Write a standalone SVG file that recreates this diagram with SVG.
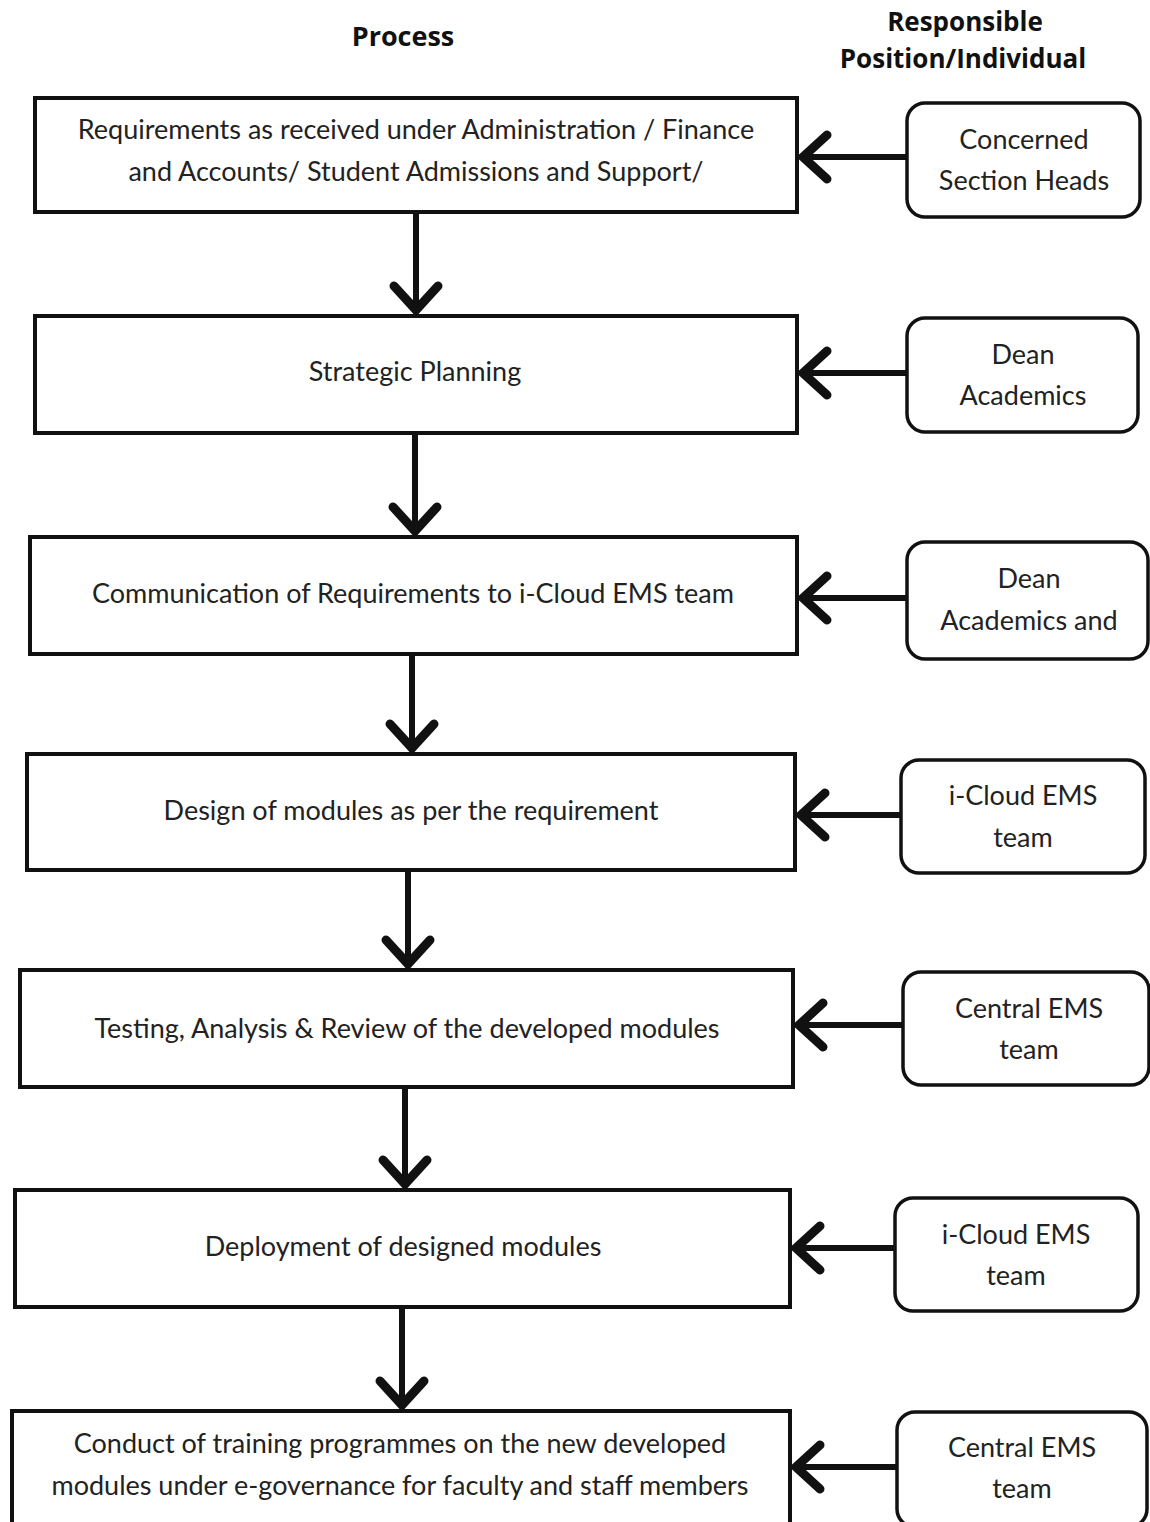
<svg xmlns="http://www.w3.org/2000/svg" width="1150" height="1522" viewBox="0 0 1150 1522">
<style>
.bg{fill:#fff}
.proc{fill:#fff;stroke:#111;stroke-width:4}
.resp{fill:#fff;stroke:#111;stroke-width:3.5}
.t{font-family:Lato,"Open Sans","Liberation Sans",sans-serif;font-size:27px;fill:#222;text-anchor:middle}
.h{font-family:"Open Sans","Liberation Sans",sans-serif;font-size:27px;font-weight:bold;fill:#111;text-anchor:middle}
.hs{font-size:26px}
.c{stroke:#111;stroke-width:6;fill:none}
</style>
<defs>
<marker id="ah" markerUnits="userSpaceOnUse" markerWidth="60" markerHeight="60" viewBox="-40 -30 44 60" refX="0" refY="0" orient="auto">
<path d="M -27 -22 L -3 0 L -27 22" fill="none" stroke="#111" stroke-width="9" stroke-linecap="round" stroke-linejoin="miter"/>
</marker>
</defs>
<rect class="bg" x="0" y="0" width="1150" height="1522"/>
<g id="headers">
<text class="h" x="403" y="46">Process</text>
<text class="h hs" x="965" y="31">Responsible</text>
<text class="h hs" x="963" y="68">Position/Individual</text>
</g>
<g id="p1"><rect class="proc" x="35" y="98" width="762" height="114"/>
<text class="t" x="416" y="139">Requirements as received under Administration / Finance</text>
<text class="t" x="416" y="181">and Accounts/ Student Admissions and Support/</text></g>
<g id="r1"><rect class="resp" x="907" y="103" width="233" height="114" rx="18"/>
<text class="t" x="1024" y="149">Concerned</text>
<text class="t" x="1024" y="190">Section Heads</text></g>
<g id="p2"><rect class="proc" x="35" y="316" width="762" height="117"/>
<text class="t" x="415" y="381">Strategic Planning</text></g>
<g id="r2"><rect class="resp" x="907" y="318" width="231" height="114" rx="18"/>
<text class="t" x="1023" y="364">Dean</text>
<text class="t" x="1023" y="405">Academics</text></g>
<g id="p3"><rect class="proc" x="30" y="537" width="767" height="117"/>
<text class="t" x="413" y="603">Communication of Requirements to i-Cloud EMS team</text></g>
<g id="r3"><rect class="resp" x="907" y="542" width="241" height="117" rx="18"/>
<text class="t" x="1029" y="588">Dean</text>
<text class="t" x="1029" y="630">Academics and</text></g>
<g id="p4"><rect class="proc" x="27" y="754" width="768" height="116"/>
<text class="t" x="411" y="820">Design of modules as per the requirement</text></g>
<g id="r4"><rect class="resp" x="901" y="760" width="244" height="113" rx="18"/>
<text class="t" x="1023" y="805">i-Cloud EMS</text>
<text class="t" x="1023" y="847">team</text></g>
<g id="p5"><rect class="proc" x="20" y="970" width="773" height="117"/>
<text class="t" x="407" y="1038">Testing, Analysis &amp; Review of the developed modules</text></g>
<g id="r5"><rect class="resp" x="903" y="972" width="246" height="113" rx="18"/>
<text class="t" x="1029" y="1018">Central EMS</text>
<text class="t" x="1029" y="1059">team</text></g>
<g id="p6"><rect class="proc" x="15" y="1190" width="775" height="117"/>
<text class="t" x="403" y="1256">Deployment of designed modules</text></g>
<g id="r6"><rect class="resp" x="895" y="1198" width="243" height="113" rx="18"/>
<text class="t" x="1016" y="1244">i-Cloud EMS</text>
<text class="t" x="1016" y="1285">team</text></g>
<g id="p7"><rect class="proc" x="12" y="1411" width="778" height="116"/>
<text class="t" x="400" y="1453">Conduct of training programmes on the new developed</text>
<text class="t" x="400" y="1495">modules under e-governance for faculty and staff members</text></g>
<g id="r7"><rect class="resp" x="897" y="1412" width="250" height="115" rx="18"/>
<text class="t" x="1022" y="1457">Central EMS</text>
<text class="t" x="1022" y="1498">team</text></g>
<g id="connectors">
<line class="c" x1="416" y1="214" x2="416" y2="313" marker-end="url(#ah)"/>
<line class="c" x1="415" y1="435" x2="415" y2="534" marker-end="url(#ah)"/>
<line class="c" x1="412" y1="656" x2="412" y2="751" marker-end="url(#ah)"/>
<line class="c" x1="408" y1="872" x2="408" y2="967" marker-end="url(#ah)"/>
<line class="c" x1="405" y1="1089" x2="405" y2="1187" marker-end="url(#ah)"/>
<line class="c" x1="402" y1="1309" x2="402" y2="1408" marker-end="url(#ah)"/>
<line class="c" x1="906" y1="157" x2="800" y2="157" marker-end="url(#ah)"/>
<line class="c" x1="906" y1="373" x2="800" y2="373" marker-end="url(#ah)"/>
<line class="c" x1="906" y1="598" x2="800" y2="598" marker-end="url(#ah)"/>
<line class="c" x1="900" y1="815" x2="798" y2="815" marker-end="url(#ah)"/>
<line class="c" x1="902" y1="1025" x2="796" y2="1025" marker-end="url(#ah)"/>
<line class="c" x1="894" y1="1248" x2="793" y2="1248" marker-end="url(#ah)"/>
<line class="c" x1="896" y1="1467" x2="793" y2="1467" marker-end="url(#ah)"/>
</g>
</svg>
